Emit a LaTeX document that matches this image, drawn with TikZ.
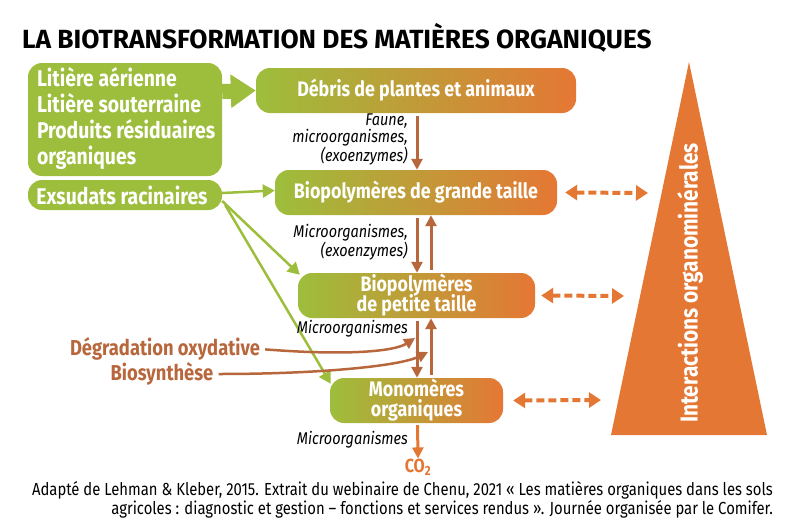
\documentclass[tikz,border=0pt]{standalone}
\usepackage{fontspec}
\setmainfont{Fira Sans}[FakeStretch=0.85]
\newfontfamily\titlefont{Fira Sans}
\usetikzlibrary{arrows.meta}
\definecolor{cgreen}{HTML}{9DBE3C}
\definecolor{corange}{HTML}{E57734}
\definecolor{cbrown}{HTML}{B8673C}
\begin{document}
\begin{tikzpicture}[x=1pt,y=-1pt,
  boxfont/.style={font=\bfseries\fontsize{21}{24}\selectfont},
  bigfont/.style={font=\bfseries\fontsize{22.8}{24}\selectfont},
  gbox/.style={fill=cgreen, rounded corners=14pt, text=white, bigfont, inner sep=0pt},
  grad/.style={left color=cgreen, right color=corange, rounded corners=14pt, text=white, boxfont, align=center, inner sep=0pt, minimum height=45pt},
  lab/.style={font=\itshape\fontsize{17}{17}\selectfont, align=right, anchor=east, inner sep=0pt, text=black},
  barr/.style={draw=cbrown, line width=3pt, -{Triangle[length=11pt,width=11pt]}},
  garr/.style={draw=cgreen, line width=2.5pt, -{Triangle[length=12pt,width=13pt]}},
  darr/.style={draw=corange, line width=4pt, dash pattern=on 8pt off 4pt, {Triangle[length=12pt,width=15pt]}-{Triangle[length=12pt,width=15pt]}},
]
\useasboundingbox (0,0) rectangle (800,522);

% title
\node[anchor=west, inner sep=0pt, font=\titlefont\bfseries\fontsize{26.3}{28}\selectfont] (title) at (22,38) {LA BIOTRANSFORMATION DES MATIÈRES ORGANIQUES};

% left green boxes
\node[gbox, minimum width=194pt, minimum height=113pt] (lit) at (125,119.5) {};
\node[anchor=west, inner sep=0pt, text=white, bigfont] (littxt) at ([xshift=9pt]lit.west)
  {\begin{tabular}{@{}l@{}}Litière aérienne\\Litière souterraine\\Produits résiduaires\\organiques\end{tabular}};
\node[gbox, minimum width=194pt, minimum height=30pt] (exs) at (125,195) {\hspace*{-6pt}Exsudats racinaires};

% gradient boxes
\node[grad, minimum width=320pt] (deb) at (416,90.5) {Débris de plantes et animaux};
\node[grad, minimum width=282pt] (bpg) at (416,192.5) {Biopolymères de grande taille};
\node[grad, minimum width=237pt] (bpp) at (416.5,295.5) {Biopolymères\\[-4pt]de petite taille};
\node[grad, minimum width=173pt] (mon) at (416.5,400.5) {Monomères\\[-4pt]organiques};

% block arrow
\draw[cgreen, line width=15pt, -{Triangle[length=25pt,width=32pt]}] ([yshift=28pt]lit.east) -- (deb.west);

% green connectors
\draw[garr] ([yshift=2pt]exs.east) -- ([yshift=2pt]bpg.west);
\draw[garr] ([yshift=-6pt]exs.east) -- ([xshift=2pt,yshift=-2pt]bpp.north west);
\draw[garr] ([xshift=3pt,yshift=-10pt]exs.east) -- ([xshift=1pt,yshift=-6pt]mon.north west);

% vertical brown arrows
\draw[barr, shorten <=3pt] ([xshift=1pt]deb.south) -- ([xshift=1pt]bpg.north);
\draw[barr, shorten <=3pt] ([xshift=1pt]bpg.south) -- ([xshift=0.5pt]bpp.north);
\draw[barr, shorten <=3pt] ([xshift=14.5pt]bpp.north) -- ([xshift=15pt]bpg.south);
\draw[barr, shorten <=3pt] ([xshift=0.5pt]bpp.south) -- ([xshift=0.5pt]mon.north);
\draw[barr, shorten <=3pt] ([xshift=14.5pt]mon.north) -- ([xshift=14.5pt]bpp.south);

% labels
\node[lab] (l1) at (408,139) {Faune,\\microorganismes,\\(exoenzymes)};
\node[lab] (l2) at (408,242) {Microorganismes,\\(exoenzymes)};
\node[lab] (l3) at (408,329) {Microorganismes};
\node[lab] (l4) at (408,440) {Microorganismes};

% CO2
\node[inner sep=0pt, text=corange, font=\bfseries\fontsize{19}{21}\selectfont] (co2) at (418,467) {CO\textsubscript{2}};
\draw[draw=corange, line width=3pt, -{Triangle[length=11pt,width=11pt]}, shorten <=2pt] ([xshift=1pt]mon.south) -- (co2.north);

% degradation / biosynthese
\node[inner sep=0pt, text=cbrown, font=\bfseries\fontsize{21.6}{24}\selectfont] (dg) at (165,349) {Dégradation oxydative};
\node[inner sep=0pt, text=cbrown, font=\bfseries\fontsize{21.6}{24}\selectfont] (bs) at (162,374) {Biosynthèse};
\coordinate (dgEnd) at (415,338);
\coordinate (bsEnd) at (428,352);
\draw[barr, line width=2.5pt, shorten <=5pt] (dg.east) .. controls (350,356) and (395,351) .. (dgEnd);
\draw[barr, line width=2.5pt, shorten <=5pt] (bs.east) .. controls (320,374) and (400,366) .. (bsEnd);

% triangle
\fill[corange] (689,62) -- (767,435) -- (611,435) -- cycle;
\node[rotate=90, text=white, inner sep=0pt, font=\bfseries\fontsize{24.5}{26}\selectfont] (inter) at (690,283) {Interactions organominérales};

% dashed double arrows
\coordinate (t1) at (648,193);
\coordinate (t2) at (624,296);
\coordinate (t3) at (601,400);
\draw[darr] ([xshift=8pt]bpg.east) -- (t1);
\draw[darr] ([xshift=6pt]bpp.east) -- (t2);
\draw[darr] ([xshift=10pt]mon.east) -- (t3);

% caption
\node[anchor=east, align=right, inner sep=0pt, font=\fontsize{17.45}{16.5}\selectfont] (cap) at (773,500)
  {Adapté de Lehman \& Kleber, 2015. Extrait du webinaire de Chenu, 2021 « Les matières organiques dans les sols\\agricoles : diagnostic et gestion – fonctions et services rendus ». Journée organisée par le Comifer.};
\end{tikzpicture}
\end{document}
